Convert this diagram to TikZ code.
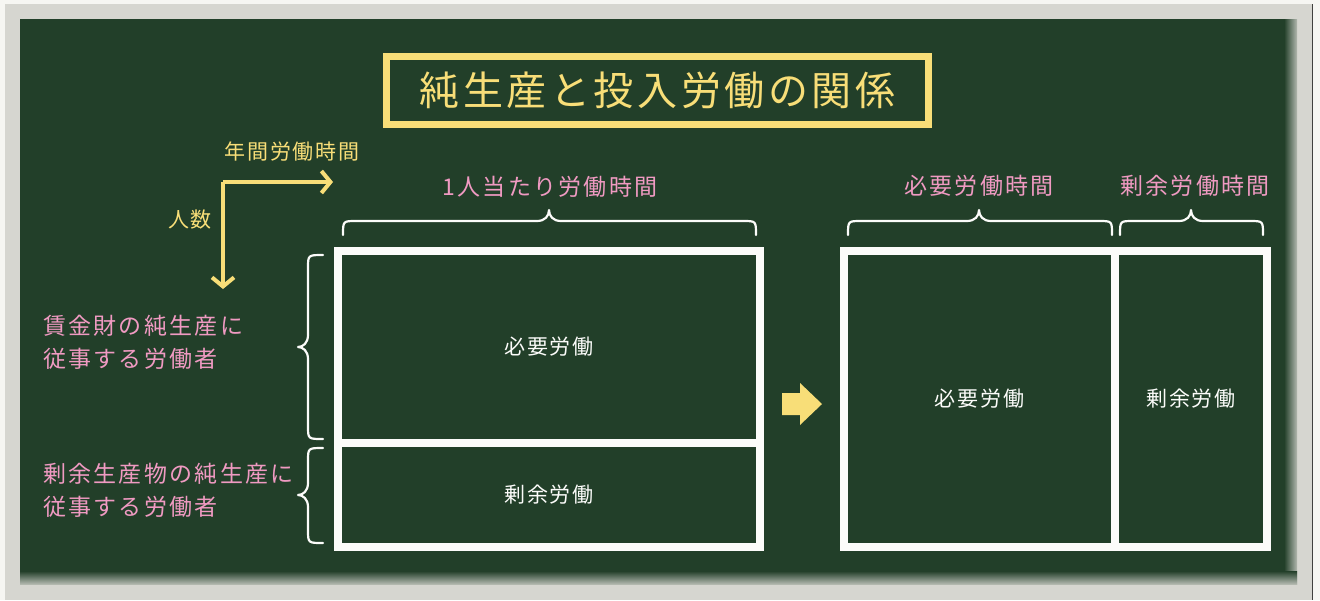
\documentclass[tikz,border=0pt]{standalone}
\usepackage{fontspec}
\setmainfont{Noto Sans CJK JP}
\usetikzlibrary{arrows.meta,calc}
\definecolor{pagebg}{RGB}{246,246,242}
\definecolor{framegrey}{RGB}{214,214,208}
\definecolor{board}{RGB}{34,63,41}
\definecolor{chalkyellow}{RGB}{248,222,120}
\definecolor{chalkpink}{RGB}{240,154,194}
\definecolor{chalkwhite}{RGB}{252,252,250}
\tikzset{
  titletext/.style={text=chalkyellow, font=\fontsize{20}{24}\selectfont\addfontfeature{LetterSpace=9}},
  ylabel/.style={text=chalkyellow, font=\fontsize{10.5}{13}\selectfont\addfontfeature{LetterSpace=9}},
  plabel/.style={text=chalkpink, font=\fontsize{11.5}{16.5}\selectfont\addfontfeature{LetterSpace=10}},
  wlabel/.style={text=chalkwhite, font=\fontsize{10.5}{13}\selectfont\addfontfeature{LetterSpace=9}},
  boxcell/.style={draw=chalkwhite, line width=4pt, inner sep=0pt},
  bracepath/.style={draw=chalkwhite, line width=1.1pt, line cap=round, line join=round},
  axisline/.style={draw=chalkyellow, line width=2pt, line join=miter,
    -{Straight Barb[length=4.5pt,width=11pt,line width=2pt]}},
}
\begin{document}
\begin{tikzpicture}[x=0.5pt,y=-0.5pt]
\useasboundingbox (0,0) rectangle (1320,600);
% frame and board
\fill[pagebg] (0,0) rectangle (1320,600);
\fill[framegrey] (5,4) rectangle (1312,600);
\draw[black!70!framegrey, line width=0.6pt] (1312.5,4) -- (1312.5,600);
\fill[board] (20,19) rectangle (1297,584);
\shade[left color=board, right color=framegrey!80!board] (1284,19) rectangle (1297,584);
\shade[top color=board, bottom color=framegrey!80!board] (20,571) rectangle (1297,584);

% title
\node[titletext, draw=chalkyellow, line width=2pt, minimum width=272.5pt, minimum height=35.5pt, inner sep=0pt]
  (title) at (657.5,90.5) {純生産と投入労働の関係};
\draw[chalkyellow, line width=1.25pt] ($(title.north west)+(5.5,5.5)$) rectangle ($(title.south east)+(-5.5,-5.5)$);

% axes
\coordinate (orig) at (223,182);
\coordinate (xend) at (333,182);
\coordinate (yend) at (223,289);
\draw[axisline] (orig) -- (xend);
\draw[axisline] (orig) -- (yend);
\node[ylabel] (xlab) at (292,152) {年間労働時間};
\node[ylabel] (ylab) at (190,220) {人数};

% left boxes
\node[boxcell, minimum width=211pt, minimum height=96pt, wlabel] (nec1) at (549,347) {必要労働};
\node[boxcell, minimum width=211pt, minimum height=52pt, wlabel] (sur1) at (549,495) {剰余労働};

% right boxes
\node[boxcell, minimum width=135.5pt, minimum height=148pt, wlabel] (nec2) at (979.5,399) {必要労働};
\node[boxcell, minimum width=76pt, minimum height=148pt, wlabel] (sur2) at (1191,399) {剰余労働};

% top labels
\node[plabel] (lab1) at (550,187) {1人当たり労働時間};
\node[plabel] (lab2) at (979,186) {必要労働時間};
\node[plabel] (lab3) at (1195,186) {剰余労働時間};

% left labels
\node[plabel, align=left, anchor=west] (lw1) at (36,342) {賃金財の純生産に\\従事する労働者};
\node[plabel, align=left, anchor=west] (lw2) at (36,490) {剰余生産物の純生産に\\従事する労働者};

% horizontal braces
\draw[bracepath] (343,235) .. controls (343,221) .. (356,221) -- (537,221)
  .. controls (545,221) and (549,216) .. (549,210) .. controls (549,216) and (553,221) .. (561,221)
  -- (743,221) .. controls (756,221) .. (756,235);
\draw[bracepath] (848,235) .. controls (848,221) .. (861,221) -- (967,221)
  .. controls (975,221) and (979,216) .. (979,210) .. controls (979,216) and (983,221) .. (991,221)
  -- (1099,221) .. controls (1112,221) .. (1112,235);
\draw[bracepath] (1120,235) .. controls (1120,221) .. (1133,221) -- (1179,221)
  .. controls (1187,221) and (1191,216) .. (1191,210) .. controls (1191,216) and (1195,221) .. (1203,221)
  -- (1250,221) .. controls (1263,221) .. (1263,235);

% vertical braces
\draw[bracepath] (323,255) .. controls (308,255) .. (308,268) -- (308,335)
  .. controls (308,343) and (303,347) .. (298,347) .. controls (303,347) and (308,351) .. (308,359)
  -- (308,426) .. controls (308,439) .. (323,439);
\draw[bracepath] (323,448) .. controls (308,448) .. (308,461) -- (308,483)
  .. controls (308,491) and (303,495) .. (298,495) .. controls (303,495) and (308,499) .. (308,507)
  -- (308,530) .. controls (308,543) .. (323,543);

% transition arrow
\fill[chalkyellow] (782,393) -- (800,393) -- (800,383) -- (822,404) -- (800,425) -- (800,415) -- (782,415) -- cycle;
\end{tikzpicture}
\end{document}
